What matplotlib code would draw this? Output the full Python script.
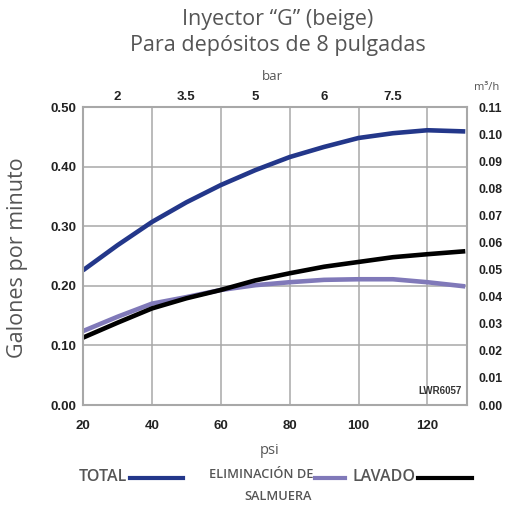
import matplotlib
matplotlib.use("Agg")
import matplotlib.pyplot as plt

psi = [20, 30, 40, 50, 60, 70, 80, 90, 100, 110, 120, 131]
total = [0.226, 0.268, 0.307, 0.340, 0.369, 0.394, 0.416, 0.433, 0.448, 0.456, 0.461, 0.459]
salmuera = [0.124, 0.148, 0.170, 0.181, 0.193, 0.201, 0.206, 0.210, 0.211, 0.211, 0.206, 0.199]
lavado = [0.113, 0.138, 0.162, 0.179, 0.193, 0.209, 0.221, 0.232, 0.240, 0.248, 0.253, 0.258]

psi_ticks = [20, 40, 60, 80, 100, 120]
gpm_ticks = [0.0, 0.1, 0.2, 0.3, 0.4, 0.5]
bar_pos = [30, 50, 70, 90, 110]
bar_labels = ["2", "3.5", "5", "6", "7.5"]
m3h_ticks = [0.00, 0.01, 0.02, 0.03, 0.04, 0.05, 0.06, 0.07, 0.08, 0.09, 0.10, 0.11]

C_TOTAL = "#23378a"
C_SAL = "#8079b9"
C_LAV = "#000000"
GRAY = "#555555"
GRID = "#a8a8a8"

tickfont = dict(family=["Liberation Sans Narrow", "Liberation Sans", "DejaVu Sans"], weight="bold", size=9.5)
rtickfont = dict(family=["Liberation Sans Narrow", "Liberation Sans", "DejaVu Sans"], weight="bold", size=8.8)
txtfam = ["Open Sans", "DejaVu Sans"]

fig = plt.figure(figsize=(5.05, 5.05), dpi=100)
ax = fig.add_axes([83/505, 1-405/505, 384/505, 298/505])

ax.plot(psi, total, color=C_TOTAL, lw=3.3, solid_capstyle="butt")
ax.plot(psi, salmuera, color=C_SAL, lw=3.3, solid_capstyle="butt")
ax.plot(psi, lavado, color=C_LAV, lw=3.3, solid_capstyle="butt")

ax.set_xlim(20, 131.5)
ax.set_ylim(0, 0.5)
ax.set_xticks(psi_ticks)
ax.set_yticks(gpm_ticks)
ax.set_xticklabels([str(v) for v in psi_ticks], fontdict=tickfont)
ax.set_yticklabels([f"{v:.2f}" for v in gpm_ticks], fontdict=tickfont)
ax.tick_params(axis="y", length=0, pad=5, colors="#222222")
ax.tick_params(axis="x", length=0, pad=11, colors="#222222")
ax.grid(True, color=GRID, lw=1.1)
for s in ax.spines.values():
    s.set_color(GRID)
    s.set_linewidth(1.5)

ax.text(0.985, 0.03, "LWR6057", transform=ax.transAxes, ha="right", va="bottom",
        fontdict=dict(family=["Liberation Sans Narrow", "Liberation Sans"], weight="bold", size=7), color="#333333")

# top bar axis
axt = ax.twiny()
axt.set_xlim(ax.get_xlim())
axt.set_xticks(bar_pos)
axt.set_xticklabels(bar_labels, fontdict=tickfont)
axt.tick_params(length=0, pad=3, colors="#222222")
for s in axt.spines.values():
    s.set_visible(False)

# right m3/h axis
axr = ax.twinx()
axr.set_ylim(0, 0.11)
axr.set_yticks(m3h_ticks)
axr.set_yticklabels([f"{v:.2f}" for v in m3h_ticks], fontdict=rtickfont)
axr.tick_params(length=0, pad=8, colors="#222222")
for s in axr.spines.values():
    s.set_visible(False)

fig.text(278/505, 1-19/505, "Inyector \u201cG\u201d (beige)", ha="center", va="center", family=txtfam, size=15.5, color=GRAY)
fig.text(278/505, 1-46/505, "Para depósitos de 8 pulgadas", ha="center", va="center", family=txtfam, size=15.5, color=GRAY)
fig.text(272/505, 1-77/505, "bar", ha="center", va="center", family=txtfam, size=9.5, color=GRAY)
fig.text(487/505, 1-88/505, "m\u00b3/h", ha="center", va="center", family=txtfam, size=8, color=GRAY)
fig.text(18/505, 1-258/505, "Galones por minuto", ha="center", va="center", rotation=90, family=txtfam, size=15.5, color=GRAY)
fig.text(270/505, 1-451/505, "psi", ha="center", va="center", family=txtfam, size=10.5, color=GRAY)

# legend
ly = 1-477/505
fig.text(127/505, ly, "TOTAL", ha="right", va="center", family=txtfam, size=11.5, weight="semibold", color=GRAY)
fig.add_artist(plt.Line2D([130/505, 183/505], [1-478/505, 1-478/505], color=C_TOTAL, lw=3))
fig.text(313/505, 1-474/505, "ELIMINACIÓN DE", ha="right", va="center", family=txtfam, size=9.2, weight="semibold", color=GRAY)
fig.text(278/505, 1-496/505, "SALMUERA", ha="center", va="center", family=txtfam, size=9.2, weight="semibold", color=GRAY)
fig.add_artist(plt.Line2D([315/505, 345/505], [1-478/505, 1-478/505], color=C_SAL, lw=3))
fig.text(416/505, ly, "LAVADO", ha="right", va="center", family=txtfam, size=11.5, weight="semibold", color=GRAY)
fig.add_artist(plt.Line2D([418/505, 472/505], [1-478/505, 1-478/505], color=C_LAV, lw=3))

fig.savefig("out.png", dpi=100)
